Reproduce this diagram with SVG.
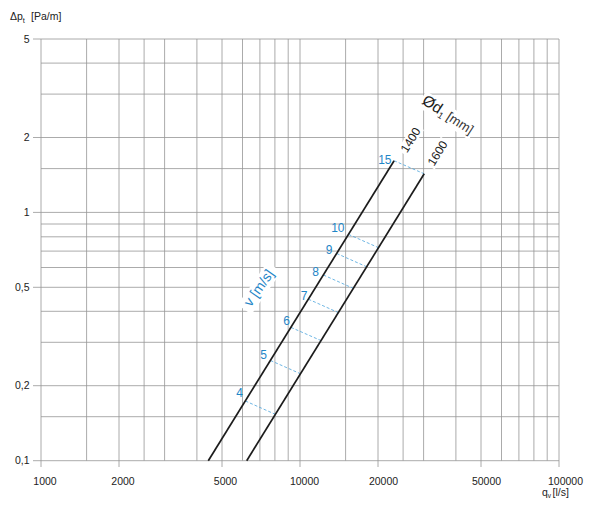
<svg xmlns="http://www.w3.org/2000/svg" width="600" height="518" viewBox="0 0 600 518">
<style>
.grid line{stroke:#959595;stroke-width:0.8;fill:none}
.tick{fill:#222;font-family:"Liberation Sans",Arial,sans-serif;font-size:10.5px}
.main{stroke:#1c1c1c;stroke-width:1.7;fill:none;stroke-linecap:butt}
.dash{stroke:#4aa3dc;stroke-width:0.8;stroke-dasharray:3 2;fill:none}
.vlab{fill:#1f86c7;font-family:"Liberation Sans",Arial,sans-serif;font-size:12px;text-anchor:end}
.dlab{fill:#1c1c1c;font-family:"Liberation Sans",Arial,sans-serif;font-size:12px}
.bg{fill:#ffffff}
</style>
<rect width="600" height="518" fill="#ffffff"/>
<g id="grid" class="grid">
<line x1="41" y1="39" x2="41" y2="467"/>
<line x1="86.6" y1="39" x2="86.6" y2="460.7"/>
<line x1="119" y1="39" x2="119" y2="467"/>
<line x1="144.1" y1="39" x2="144.1" y2="460.7"/>
<line x1="164.6" y1="39" x2="164.6" y2="460.7"/>
<line x1="196.9" y1="39" x2="196.9" y2="460.7"/>
<line x1="222" y1="39" x2="222" y2="467"/>
<line x1="242.5" y1="39" x2="242.5" y2="460.7"/>
<line x1="259.9" y1="39" x2="259.9" y2="460.7"/>
<line x1="274.9" y1="39" x2="274.9" y2="460.7"/>
<line x1="288.2" y1="39" x2="288.2" y2="460.7"/>
<line x1="300" y1="39" x2="300" y2="467"/>
<line x1="345.6" y1="39" x2="345.6" y2="460.7"/>
<line x1="378" y1="39" x2="378" y2="467"/>
<line x1="403.1" y1="39" x2="403.1" y2="460.7"/>
<line x1="423.6" y1="39" x2="423.6" y2="460.7"/>
<line x1="455.9" y1="39" x2="455.9" y2="460.7"/>
<line x1="481" y1="39" x2="481" y2="467"/>
<line x1="501.5" y1="39" x2="501.5" y2="460.7"/>
<line x1="518.9" y1="39" x2="518.9" y2="460.7"/>
<line x1="533.9" y1="39" x2="533.9" y2="460.7"/>
<line x1="547.2" y1="39" x2="547.2" y2="460.7"/>
<line x1="559" y1="39" x2="559" y2="467"/>
<line x1="33" y1="39" x2="559" y2="39"/>
<line x1="41" y1="63.1" x2="559" y2="63.1"/>
<line x1="41" y1="94.1" x2="559" y2="94.1"/>
<line x1="33" y1="137.5" x2="559" y2="137.5"/>
<line x1="41" y1="168.6" x2="559" y2="168.6"/>
<line x1="33" y1="212.4" x2="559" y2="212.4"/>
<line x1="41" y1="224" x2="559" y2="224"/>
<line x1="41" y1="236.8" x2="559" y2="236.8"/>
<line x1="41" y1="251.1" x2="559" y2="251.1"/>
<line x1="41" y1="267.5" x2="559" y2="267.5"/>
<line x1="33" y1="287.3" x2="559" y2="287.3"/>
<line x1="41" y1="311.3" x2="559" y2="311.3"/>
<line x1="41" y1="342.3" x2="559" y2="342.3"/>
<line x1="33" y1="385.7" x2="559" y2="385.7"/>
<line x1="41" y1="416.7" x2="559" y2="416.7"/>
<line x1="33" y1="460.7" x2="559" y2="460.7"/>
</g>
<g id="axis-labels" class="tick">
<text x="29.5" y="42.5" text-anchor="end">5</text>
<text x="29.5" y="141" text-anchor="end">2</text>
<text x="29.5" y="216" text-anchor="end">1</text>
<text x="29.5" y="291" text-anchor="end">0,5</text>
<text x="29.5" y="389" text-anchor="end">0,2</text>
<text x="29.5" y="464.3" text-anchor="end">0,1</text>
<text x="45" y="484.5" text-anchor="middle">1000</text>
<text x="123" y="484.5" text-anchor="middle">2000</text>
<text x="225.5" y="484.5" text-anchor="middle">5000</text>
<text x="304.5" y="484.5" text-anchor="middle">10000</text>
<text x="383.5" y="484.5" text-anchor="middle">20000</text>
<text x="486.5" y="484.5" text-anchor="middle">50000</text>
<text x="565.5" y="484.5" text-anchor="middle">100000</text>
<text x="10" y="20">Δp<tspan font-size="7.5" dy="3">t</tspan><tspan x="31" y="20">[Pa/m]</tspan></text>
<text x="542" y="495.5">q<tspan font-size="6.5" dy="2">v</tspan><tspan x="552.5" y="495.5">[l/s]</tspan></text>
</g>
<g id="label-bg">
<rect class="bg" transform="translate(421,103) rotate(33)" x="-2" y="-13" width="62" height="18"/>
<rect class="bg" transform="translate(407,153.5) rotate(-58.2)" x="-2" y="-10" width="31" height="12"/>
<rect class="bg" transform="translate(434,166.7) rotate(-58.2)" x="-2" y="-10" width="31" height="12"/>
<rect class="bg" transform="translate(259,288) rotate(-55)" x="-26" y="-8" width="52" height="17"/>
</g>
<g id="connectors">
<line class="dash" x1="245.4" y1="401" x2="275.5" y2="414.4"/>
<line class="dash" x1="270.5" y1="360.5" x2="300.6" y2="373.8"/>
<line class="dash" x1="291" y1="327.4" x2="321.1" y2="340.6"/>
<line class="dash" x1="308.4" y1="299.2" x2="338.4" y2="312.6"/>
<line class="dash" x1="323.4" y1="275" x2="353.4" y2="288.4"/>
<line class="dash" x1="336.7" y1="253.5" x2="366.7" y2="266.8"/>
<line class="dash" x1="348.5" y1="234.4" x2="378.6" y2="247.7"/>
<line class="dash" x1="394.1" y1="160.7" x2="424.2" y2="173.8"/>
</g>
<g id="duct-1400">
<line class="main" x1="208.3" y1="460.7" x2="394.1" y2="160.7"/>
<text class="dlab" transform="translate(407,153.5) rotate(-58.2)">1400</text>
</g>
<g id="duct-1600">
<line class="main" x1="246.7" y1="460.7" x2="424.2" y2="173.8"/>
<text class="dlab" transform="translate(434,166.7) rotate(-58.2)">1600</text>
</g>
<g id="velocity-labels" class="vlab">
<text x="243" y="397">4</text>
<text x="267" y="359">5</text>
<text x="290" y="325">6</text>
<text x="307.5" y="300">7</text>
<text x="319" y="275.5">8</text>
<text x="332.5" y="253.5">9</text>
<text x="344.5" y="231.7">10</text>
<text x="391.5" y="164">15</text>
</g>
<g id="v-title">
<text transform="translate(259,288) rotate(-55)" x="0" y="4.5" text-anchor="middle" fill="#1f86c7" font-family="'Liberation Sans',Arial,sans-serif" font-size="14">v [m/s]</text>
</g>
<g id="d-title">
<text transform="translate(421,103) rotate(33)" fill="#1c1c1c" font-family="'Liberation Sans',Arial,sans-serif" font-size="15.5">Ød<tspan font-size="9" dy="3">1</tspan><tspan font-size="13" dy="-3" fill="#333"> [mm]</tspan></text>
</g>
</svg>
